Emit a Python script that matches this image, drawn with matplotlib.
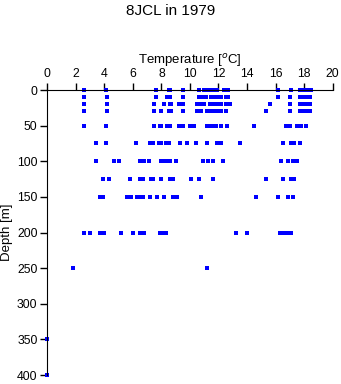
import matplotlib
matplotlib.use("Agg")
import matplotlib.pyplot as plt

plt.rcParams['font.family'] = ['Liberation Sans', 'DejaVu Sans']

# temperature readings (deg C) at each sampling depth (m)
depths = [0, 10, 20, 30, 50, 75, 100, 125, 150, 200, 250, 350, 400]
temp_0 = [2.6, 4.1, 7.6, 8.5, 8.6, 9.5, 10.6, 11.0, 11.3, 11.5, 11.7, 11.9, 12.4, 12.7,
          16.2, 17.1, 17.7, 17.9, 18.1, 18.3, 18.5]
temp_10 = [2.6, 4.2, 7.6, 8.4, 8.6, 9.5, 10.6, 10.9, 11.1, 11.5, 11.7, 11.9, 12.2, 12.5,
           12.7, 16.2, 17.0, 17.7, 17.9, 18.1, 18.4]
temp_20 = [2.6, 4.2, 7.5, 8.2, 8.6, 8.7, 9.2, 9.5, 10.5, 10.8, 11.0, 11.4, 11.7, 12.0,
           12.2, 12.5, 12.8, 15.6, 17.0, 17.7, 17.9, 18.1, 18.4]
temp_30 = [2.6, 4.2, 7.5, 8.0, 8.5, 8.7, 9.5, 10.5, 10.8, 11.2, 11.4, 11.6, 11.8, 12.0,
           12.2, 12.5, 15.3, 17.0, 17.7, 17.9, 18.1, 18.4]
temp_50 = [2.6, 4.1, 7.5, 7.9, 8.0, 8.4, 8.6, 9.2, 9.5, 10.0, 10.3, 11.2, 11.4, 11.6,
           11.8, 12.2, 12.6, 14.5, 16.7, 17.0, 17.5, 17.8, 18.1]
temp_75 = [3.4, 4.1, 6.2, 7.2, 7.4, 7.8, 8.0, 8.3, 8.5, 9.3, 9.8, 10.4, 11.2, 11.9,
           12.2, 13.5, 16.5, 17.1, 17.3, 17.7]
temp_100 = [3.4, 4.7, 5.0, 6.5, 6.8, 7.1, 8.0, 8.2, 8.4, 8.6, 9.0, 10.9, 11.3, 11.6,
            12.3, 16.4, 16.9, 17.2, 17.5]
temp_125 = [3.9, 4.3, 5.8, 6.5, 6.7, 7.3, 7.4, 8.0, 8.6, 8.8, 10.1, 10.6, 11.6, 15.3,
            16.5, 17.1, 17.3]
temp_150 = [3.7, 3.9, 5.6, 5.9, 6.3, 6.5, 6.7, 7.2, 7.7, 8.2, 8.8, 9.1, 10.8, 14.6,
            16.2, 16.9, 17.2]
temp_200 = [2.6, 3.0, 3.7, 4.0, 5.2, 6.0, 6.5, 6.8, 7.9, 8.1, 8.3, 13.2, 14.0, 16.3,
            16.5, 16.8, 17.1]
temp_250 = [1.8, 11.2]
temp_350 = [0.0]
temp_400 = [0.0]

temps = [temp_0, temp_10, temp_20, temp_30, temp_50, temp_75, temp_100, temp_125,
         temp_150, temp_200, temp_250, temp_350, temp_400]

x = []
y = []
for d, t in zip(depths, temps):
    x.extend(t)
    y.extend([d] * len(t))

fig = plt.figure(figsize=(3.41, 3.84), dpi=100)
ax = fig.add_axes([0.1387, 0.0234, 0.8367, 0.7422])
ax.plot(x, y, 's', color='#0000ff', markersize=2.3, markeredgewidth=0,
        antialiased=False, clip_on=False)

ax.set_xlim(0, 20)
ax.set_ylim(400, 0)
ax.set_xticks(range(0, 21, 2))
ax.set_yticks(range(0, 401, 50))
ax.xaxis.tick_top()
ax.xaxis.set_label_position('top')
ax.spines['right'].set_visible(False)
ax.spines['bottom'].set_visible(False)
ax.tick_params(direction='out', length=5, width=1, labelsize=8.8, pad=2)
ax.set_xlabel('Temperature [$^o$C]', fontsize=9.5, labelpad=3)
ax.set_ylabel('Depth [m]', fontsize=9.5, labelpad=3)
fig.suptitle('8JCL in 1979', fontsize=11, x=0.5, y=0.99)

fig.savefig('out.png', dpi=100)
